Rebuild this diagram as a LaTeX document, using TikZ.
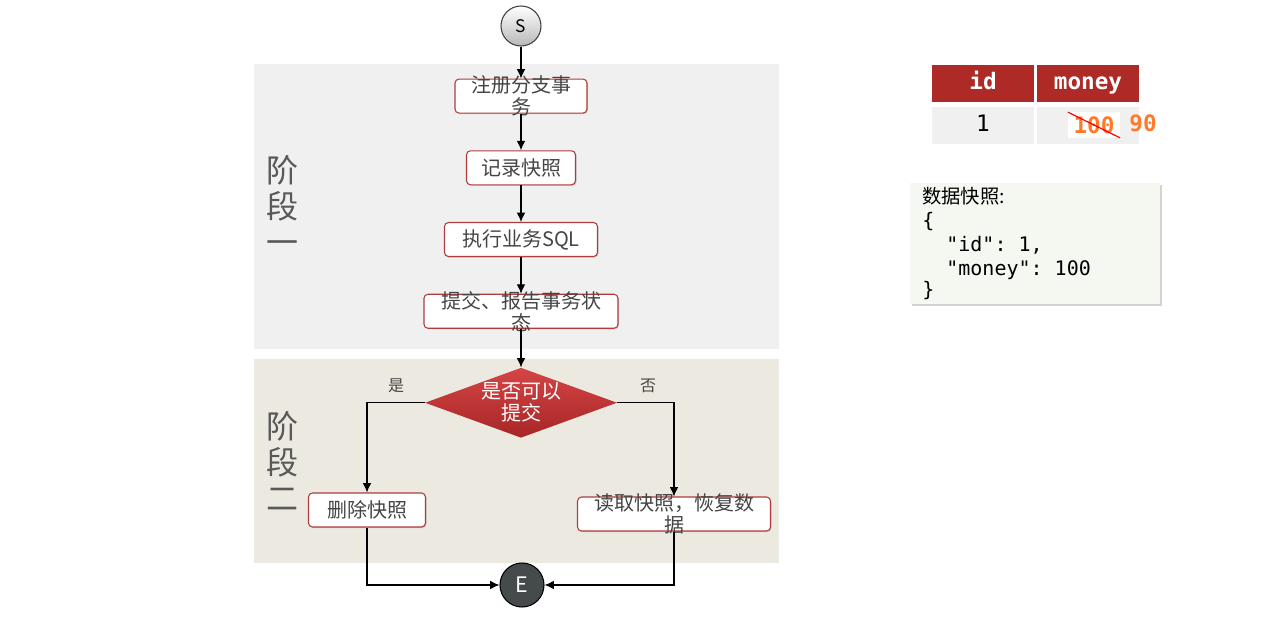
\documentclass[tikz,border=0pt]{standalone}
\usepackage{fontspec}
\setmainfont{Noto Sans CJK SC}
\newfontfamily\codefont{DejaVu Sans Mono}
\usetikzlibrary{positioning,shapes,arrows.meta,shadows}
\definecolor{phaseonebg}{HTML}{F0F0F0}
\definecolor{phasetwobg}{HTML}{ECEAE0}
\definecolor{phasegray}{HTML}{595959}
\definecolor{boxred}{HTML}{B03C3C}
\definecolor{textgray}{HTML}{454545}
\definecolor{decidetop}{HTML}{D44545}
\definecolor{decidebot}{HTML}{A82626}
\definecolor{endgray}{HTML}{454A4A}
\definecolor{tablered}{HTML}{AD2A27}
\definecolor{tablegray}{HTML}{F0F0F0}
\definecolor{moneyorange}{HTML}{FF7A2A}
\definecolor{snapbg}{HTML}{F4F8F0}
\tikzstyle{stepbox} = [rectangle, draw=boxred, line width=0.8pt, fill=white, %
   rounded corners=3pt, minimum height=25.5pt, inner sep=0pt, align=center, %
   font=\fontsize{15}{16.5}\selectfont, text=textgray, %
   drop shadow={opacity=0.3, shadow xshift=0.8pt, shadow yshift=-0.8pt}]
\tikzstyle{boxtext} = [font=\fontsize{15}{16.5}\selectfont, text=textgray, %
   align=center, inner sep=0pt]
\tikzstyle{decision} = [diamond, top color=decidetop, bottom color=decidebot, %
   minimum width=144pt, minimum height=52.5pt, inner sep=0pt]
\tikzstyle{decidetext} = [font=\fontsize{15}{16.5}\selectfont, text=white, %
   align=center, inner sep=0pt]
\tikzstyle{phaselabel} = [font=\fontsize{24}{27}\selectfont, text=phasegray, %
   align=center, inner sep=0pt]
\tikzstyle{branchlabel} = [font=\fontsize{12}{12}\selectfont, text=textgray]
\tikzstyle{cellhead} = [rectangle, fill=tablered, minimum width=76.5pt, %
   minimum height=27.75pt, text height=12pt, text depth=3.5pt, text=white, %
   font=\codefont\bfseries\fontsize{17}{17}\selectfont]
\tikzstyle{cellbody} = [rectangle, fill=tablegray, minimum width=76.5pt, %
   minimum height=27.75pt, text height=12pt, text depth=3.5pt, text=black, %
   font=\codefont\fontsize{17}{17}\selectfont]
\tikzstyle{moneyval} = [text=moneyorange, inner xsep=4pt, inner ysep=3pt, %
   font=\codefont\bfseries\fontsize{17}{17}\selectfont]
\tikzstyle{snapbox} = [rectangle, fill=snapbg, minimum width=187.5pt, %
   minimum height=90.75pt, text width=169.5pt, inner xsep=9pt, inner ysep=1pt, %
   align=left, drop shadow={opacity=0.35, shadow xshift=1.2pt, shadow yshift=-1.2pt}]
\tikzstyle{line} = [draw, line width=0.9pt, -{Latex[length=7pt, width=6.5pt]}]
\newcommand{\codeindent}{\hspace*{1.204em}}
\newcommand{\codegap}{\hspace*{0.602em}}

\begin{document}
\begin{tikzpicture}[x=0.75pt, y=-0.75pt]
   \useasboundingbox (0,0) rectangle (1267,627);

   % phase areas
   \fill[phaseonebg] (254,64) rectangle (779,349);
   \fill[phasetwobg] (254,359) rectangle (779,563);
   \node[phaselabel] (phaseone) at (282,205) {阶\\段\\一};
   \node[phaselabel] (phasetwo) at (282,461) {阶\\段\\二};

   % Place nodes
   \node[circle, draw=black!75, line width=0.8pt, top color=white, bottom color=black!28, %
      minimum size=30pt, inner sep=0pt, font=\fontsize{13}{13}\selectfont](start) at (521,26){S};

   \node[stepbox, below=24pt of start, minimum width=99pt, %
      label={[boxtext]center:注册分支事\\务}](register){};
   \node[stepbox, below=27.5pt of register, minimum width=81.75pt](snap){记录快照};
   \node[stepbox, below=27.5pt of snap, minimum width=114.75pt](runsql){执行业务SQL};
   \node[stepbox, below=27.5pt of runsql, minimum width=145.5pt, %
      label={[boxtext]center:提交、报告事务状\\态}](report){};

   \node[decision, below=29pt of report, %
      label={[decidetext]center:是否可以\\提交}](decide){};
   \node[branchlabel] (yeslbl) at (396,386) {是};
   \node[branchlabel] (nolbl) at (648,386) {否};

   \node[stepbox, minimum width=87.75pt](delsnap) at (367,510){删除快照};
   \node[stepbox, minimum width=144.75pt, %
      label={[boxtext]center:读取快照，恢复数\\据}](readsnap) at (674,514){};

   \node[circle, draw=black, line width=0.8pt, fill=endgray, text=white, %
      minimum size=33pt, inner sep=0pt, font=\fontsize{16}{16}\selectfont](finish) at (522,585){E};

   % Draw edges
   \path [line] (start) -- (register);
   \path [line] (register) -- (snap);
   \path [line] (snap) -- (runsql);
   \path [line] (runsql) -- (report);
   \path [line] (report) -- (decide);
   \path [line] (decide.west) -| (delsnap.north);
   \path [line] (decide.east) -| (readsnap.north);
   \path [line] (delsnap.south) |- (finish.west);
   \path [line] (readsnap.south) |- (finish.east);

   % table
   \node[cellhead] (hid) at (983,83.5) {id};
   \node[cellhead] (hmoney) at (1088,83.5) {money};
   \node[cellbody] (cid) at (983,125.5) {1};
   \node[cellbody] (cmoney) at (1088,125.5) {};
   \node[moneyval, fill=white] (oldval) at (1094,125) {100};
   \node[moneyval] (newval) at (1143,123) {90};
   \draw[red, line width=0.9pt] (oldval.north west) -- (oldval.south east);

   % snapshot
   \node[snapbox, anchor=north west] (snapshot) at (910,183) {%
      {\fontsize{14.5}{18}\selectfont 数据快照:}\\
      \codefont\fontsize{15}{18}\selectfont \{\\
      \codeindent"id":\codegap1,\\
      \codeindent"money":\codegap100\\
      \}};
\end{tikzpicture}
\end{document}
